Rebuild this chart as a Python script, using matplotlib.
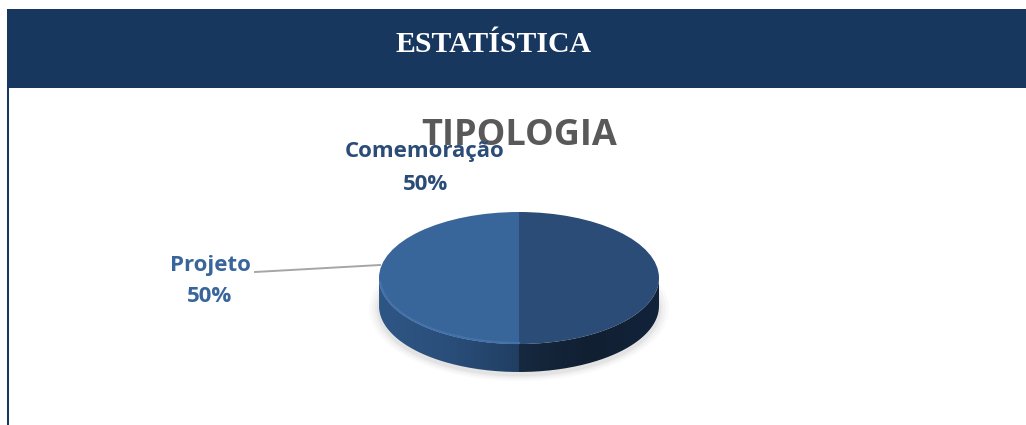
import numpy as np
import matplotlib
matplotlib.use("Agg")
import matplotlib.pyplot as plt
from matplotlib.patches import Ellipse, Rectangle, PathPatch
from matplotlib.path import Path
from matplotlib.colors import LinearSegmentedColormap

categories = ["Projeto", "Comemoração"]
values = [50, 50]
colors = ["#38659A", "#2A4C76"]
banner = "ESTATÍSTICA"
title = "TIPOLOGIA"

W, H = 1026, 425
fig = plt.figure(figsize=(W / 100, H / 100), dpi=100, facecolor="white")
bg = fig.add_axes([0, 0, 1, 1])
bg.set_xlim(0, W); bg.set_ylim(H, 0); bg.axis("off")

navy = "#17375E"
bg.add_patch(Rectangle((7, 9), W - 7, 79, fc=navy, ec="none"))
bg.add_patch(Rectangle((7, 88), 2, H - 88, fc=navy, ec="none"))
bg.text(494, 44, banner, color="white", fontsize=21.4, fontweight="bold",
        family="Liberation Serif", ha="center", va="center")
bg.text(519, 136, title, color="#595959", fontsize=26, fontweight="bold",
        family="Open Sans", ha="center", va="center", zorder=6)

cx, cy, rx, ry, depth = 519, 278, 140, 66, 28

# soft shadow under the pie
for grow, alpha in zip([10, 7, 4, 2], [.04, .05, .06, .08]):
    bg.add_patch(Ellipse((cx, cy + depth + 3), 2 * (rx + grow), 2 * (ry + grow * .6),
                         fc="#808080", ec="none", alpha=alpha, zorder=1))

# side wall of the pie with horizontal gradients
t = np.linspace(0, np.pi, 200)
xs = cx + rx * np.cos(t)
ys = cy + ry * np.sin(t)
verts = np.r_[np.c_[xs, ys], np.c_[xs[::-1], ys[::-1] + depth], [[xs[0], ys[0]]]]
band = PathPatch(Path(verts), fc="none", ec="none")
bg.add_patch(band)
cmap = LinearSegmentedColormap.from_list(
    "side", [(0, "#2E5685"), (.25, "#2A4E7A"), (.499, "#213E62"),
             (.5, "#16293F"), (.75, "#111F32"), (1, "#12233A")])
im = bg.imshow(np.linspace(0, 1, 280)[None, :], cmap=cmap, vmin=0, vmax=1, aspect="auto",
               extent=[cx - rx, cx + rx, cy + ry + depth, cy], zorder=2)
im.set_clip_path(band)
bg.set_xlim(0, W); bg.set_ylim(H, 0)

# leader line
bg.plot([255, 380], [272, 265], color="#A6A6A6", lw=1.4, zorder=2)

# top of the pie
top = fig.add_axes([(cx - rx) / W, 1 - (cy + ry) / H, 2 * rx / W, 2 * ry / H], zorder=3)
top.pie(values, colors=colors, startangle=90, radius=1,
        wedgeprops=dict(linewidth=0))
top.set_aspect("auto"); top.set_xlim(-1, 1); top.set_ylim(-1, 1)
top.patch.set_alpha(0)

# rim highlight along the lower-left edge
a = np.linspace(np.pi / 2, np.pi * .98, 80)
bg2 = fig.add_axes([0, 0, 1, 1], zorder=4); bg2.set_xlim(0, W); bg2.set_ylim(H, 0); bg2.axis("off")
bg2.plot(cx + (rx - 1) * np.cos(a), cy + (ry - 1) * np.sin(a), color="#4673AC", lw=1.6, alpha=.9)

# labels
fs = 16
bg2.text(425, 151, categories[1], color=colors[1], fontsize=fs, fontweight="bold",
         family="Open Sans", ha="center", va="center", zorder=7)
bg2.text(425, 184, f"{values[1]}%", color=colors[1], fontsize=fs, fontweight="bold",
         family="Open Sans", ha="center", va="center")
bg2.text(210, 265, categories[0], color=colors[0], fontsize=fs, fontweight="bold",
         family="Open Sans", ha="center", va="center")
bg2.text(210, 297, f"{values[0]}%", color=colors[0], fontsize=fs, fontweight="bold",
         family="Open Sans", ha="center", va="center")

fig.savefig("out.png", dpi=100)
